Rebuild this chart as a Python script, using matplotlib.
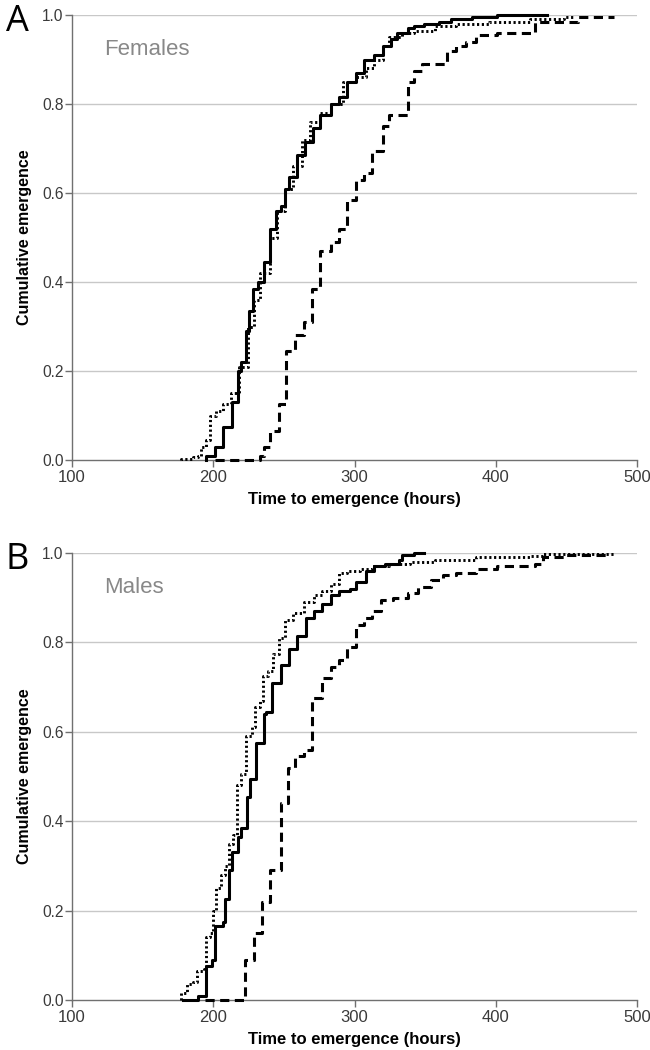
import matplotlib
matplotlib.use("Agg")
import matplotlib.pyplot as plt
from matplotlib import font_manager

# step times (hours) and cumulative emergence after each step
fem_solid_t = [194.8, 201.3, 206.6, 213.1, 217.8, 219.9, 223.4, 225.5, 227.8, 231.7, 236.1, 240.5,
               244.3, 247.9, 250.8, 253.8, 259.1, 264.9, 270.8, 275.8, 283.2, 289.1, 295.0, 300.9,
               306.8, 314.1, 320.0, 325.9, 330.3, 337.7, 342.1, 349.5, 359.8, 368.6, 383.4, 401.0]
fem_solid_y = [0.01, 0.03, 0.075, 0.13, 0.20, 0.22, 0.29, 0.335, 0.385, 0.40, 0.445, 0.52,
               0.56, 0.57, 0.61, 0.635, 0.685, 0.715, 0.745, 0.775, 0.80, 0.815, 0.85, 0.87,
               0.90, 0.91, 0.93, 0.945, 0.96, 0.97, 0.975, 0.98, 0.985, 0.99, 0.995, 1.0]
fem_solid_end = 436.0

fem_dot_t = [177.2, 186.0, 189.0, 191.0, 194.8, 197.8, 202.2, 206.6, 212.5, 218.4, 224.3, 228.7,
             233.1, 240.5, 244.9, 250.8, 256.7, 262.6, 268.5, 275.8, 283.2, 292.0, 300.9, 308.2,
             314.1, 320.0, 324.4, 333.3, 342.1, 356.8, 371.6, 395.1, 424.6, 448.2]
fem_dot_y = [0.003, 0.007, 0.01, 0.03, 0.045, 0.10, 0.11, 0.125, 0.15, 0.21, 0.30, 0.36,
             0.42, 0.50, 0.56, 0.61, 0.66, 0.72, 0.76, 0.78, 0.80, 0.85, 0.86, 0.88,
             0.90, 0.93, 0.95, 0.96, 0.965, 0.975, 0.98, 0.985, 0.99, 0.995]
fem_dot_end = 456.0

fem_dash_t = [201.0, 233.1, 236.1, 240.5, 246.4, 251.5, 258.2, 264.1, 270.0, 275.8, 283.2, 289.1,
              295.0, 300.9, 306.8, 312.7, 320.0, 324.4, 337.7, 342.1, 348.0, 365.7, 371.6, 378.9,
              386.3, 401.0, 427.5, 458.0]
fem_dash_y = [0.0, 0.01, 0.03, 0.065, 0.125, 0.245, 0.28, 0.31, 0.385, 0.47, 0.49, 0.52,
              0.585, 0.63, 0.645, 0.695, 0.75, 0.775, 0.85, 0.875, 0.89, 0.92, 0.93, 0.94,
              0.955, 0.96, 0.985, 0.995]
fem_dash_end = 483.5

mal_solid_t = [178.6, 189.0, 194.8, 199.3, 201.3, 206.6, 208.1, 211.0, 213.1, 217.8, 219.9, 223.7,
               225.8, 230.2, 236.1, 237.6, 241.4, 247.9, 253.8, 259.6, 265.5, 271.4, 277.3, 283.2,
               289.1, 296.5, 300.9, 308.2, 314.1, 321.5, 331.8, 333.3, 342.1]
mal_solid_y = [0.0, 0.01, 0.075, 0.09, 0.165, 0.175, 0.225, 0.29, 0.33, 0.365, 0.385, 0.455,
               0.495, 0.575, 0.64, 0.645, 0.71, 0.75, 0.785, 0.815, 0.855, 0.87, 0.885, 0.905,
               0.915, 0.92, 0.935, 0.96, 0.97, 0.975, 0.985, 0.995, 1.0]
mal_solid_end = 349.5

mal_dot_t = [177.2, 181.6, 186.0, 188.4, 193.4, 194.8, 197.8, 200.1, 202.2, 205.7, 208.1, 211.0,
             214.0, 216.9, 219.9, 223.4, 227.2, 229.6, 233.1, 235.5, 239.0, 242.0, 246.4, 250.8,
             256.7, 264.1, 271.4, 277.3, 283.2, 289.1, 295.0, 303.8, 312.7, 324.4, 339.2, 356.8,
             386.3, 424.6, 433.4]
mal_dot_y = [0.015, 0.035, 0.04, 0.065, 0.07, 0.14, 0.15, 0.20, 0.25, 0.28, 0.30, 0.35,
             0.37, 0.48, 0.505, 0.59, 0.61, 0.655, 0.67, 0.725, 0.735, 0.775, 0.81, 0.85,
             0.865, 0.89, 0.905, 0.915, 0.93, 0.955, 0.96, 0.965, 0.97, 0.975, 0.98, 0.985,
             0.99, 0.993, 0.997]
mal_dot_end = 483.5

mal_dash_t = [194.0, 222.8, 228.7, 234.6, 240.5, 247.9, 253.2, 258.2, 264.1, 270.0, 277.3, 283.2,
              289.1, 295.0, 300.9, 306.8, 312.7, 318.6, 327.4, 337.7, 345.1, 353.9, 362.7, 371.6,
              386.3, 401.0, 427.5, 433.4, 448.2]
mal_dash_y = [0.0, 0.09, 0.15, 0.22, 0.29, 0.44, 0.52, 0.545, 0.56, 0.675, 0.72, 0.745,
              0.76, 0.79, 0.84, 0.855, 0.87, 0.895, 0.90, 0.91, 0.925, 0.94, 0.95, 0.955,
              0.965, 0.97, 0.975, 0.99, 0.995]
mal_dash_end = 481.0

panels = [
    ("A", "Females", [(fem_solid_t, fem_solid_y, fem_solid_end, "-"),
                      (fem_dot_t, fem_dot_y, fem_dot_end, ":"),
                      (fem_dash_t, fem_dash_y, fem_dash_end, "--")]),
    ("B", "Males", [(mal_solid_t, mal_solid_y, mal_solid_end, "-"),
                    (mal_dot_t, mal_dot_y, mal_dot_end, ":"),
                    (mal_dash_t, mal_dash_y, mal_dash_end, "--")]),
]

# condensed font for the tick labels if there is one, else regular at a smaller size
try:
    font_manager.findfont("Liberation Sans Narrow", fallback_to_default=False)
    tick_fam, xt_size, yt_size = "Liberation Sans Narrow", 13.5, 11.5
except Exception:
    tick_fam, xt_size, yt_size = "Liberation Sans", 12.0, 11.2
bold = ["Liberation Sans", "DejaVu Sans"]

fig = plt.figure(figsize=(6.5, 10.5), dpi=100)
rects = [[72 / 650, 1 - 460 / 1050, 565 / 650, 445 / 1050],
         [72 / 650, 1 - 1000 / 1050, 565 / 650, 447 / 1050]]

for rect, (letter, title, series) in zip(rects, panels):
    ax = fig.add_axes(rect)
    for t, y, end, ls in series:
        xs = [t[0]] + list(t) + [end]
        ys = [0.0] + list(y) + [y[-1]]
        if ls == "--":
            ax.step(xs, ys, where="post", color="black", lw=2.2, linestyle=(0, (3.0, 1.8)),
                    clip_on=False, zorder=3)
        elif ls == ":":
            ax.step(xs, ys, where="post", color="black", lw=2.1, linestyle=(0, (0.75, 0.9)),
                    clip_on=False, zorder=3)
        else:
            ax.step(xs, ys, where="post", color="black", lw=2.2, clip_on=False, zorder=4)

    ax.set_xlim(100, 500)
    ax.set_ylim(0, 1)
    ax.set_xticks([100, 200, 300, 400, 500])
    ax.set_yticks([0.0, 0.2, 0.4, 0.6, 0.8, 1.0])
    ax.set_yticklabels(["0.0", "0.2", "0.4", "0.6", "0.8", "1.0"])
    for gy in [0.2, 0.4, 0.6, 0.8, 1.0]:
        ax.axhline(gy, color="#c8c8c8", lw=1.0, zorder=1)
    for s in ["top", "right"]:
        ax.spines[s].set_visible(False)
    for s in ["left", "bottom"]:
        ax.spines[s].set_color("#707070")
        ax.spines[s].set_linewidth(1.0)
    ax.tick_params(axis="both", colors="#707070", labelcolor="#3a3a3a", length=5, width=1.0)
    ax.tick_params(axis="x", labelsize=xt_size, pad=2)
    ax.tick_params(axis="y", labelsize=yt_size, pad=1)
    for lab in ax.get_xticklabels() + ax.get_yticklabels():
        lab.set_family(tick_fam)
    ax.set_xlabel("Time to emergence (hours)", fontsize=12, fontweight="bold",
                  family=bold, labelpad=5)
    ax.set_ylabel("Cumulative emergence", fontsize=11.5, fontweight="bold", family=bold,
                  labelpad=7)
    ax.text(122.5, 0.922, title, fontsize=16, color="#888888", family=["Liberation Sans", "DejaVu Sans"],
            va="center", ha="left")
    ax.text(-0.097, 0.985, letter, transform=ax.transAxes, fontsize=26,
            family=["Open Sans", "DejaVu Sans"], va="center", ha="center")

fig.savefig("out.png", dpi=100)
